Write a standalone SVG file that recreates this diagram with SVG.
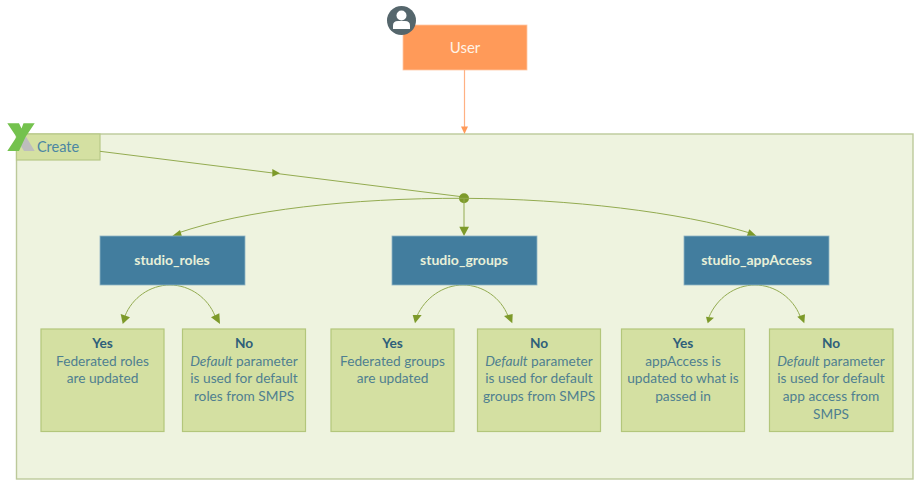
<svg xmlns="http://www.w3.org/2000/svg" width="920" height="487" viewBox="0 0 920 487">
<style>
text{font-family:Lato,"Noto Sans",sans-serif;text-anchor:middle}
.leaf{fill:#d4e0a2;stroke:#b3c67b;stroke-width:1.200}
.head{fill:#427d9e;stroke:#8fb3c4;stroke-width:.8}
.ht{font-size:14px;font-weight:700;fill:#e8f0d8}
.lt{font-size:13.700px;fill:#4f7f90}
.lb{font-size:13.700px;font-weight:700;fill:#2f5f7a}
.c{fill:none;stroke:#93ab50;stroke-width:1}
.a{fill:#7d9a2a}
</style>
<g id="create">
<rect x="16.500" y="134" width="896.500" height="345" fill="#eef3df" stroke="#bcc99a" stroke-width="1.400"/>
<rect x="16.500" y="134" width="83.500" height="26" fill="#d4e0a2" stroke="#b8c987" stroke-width="1.200"/>
<text x="58" y="151.500" style="font-size:14.500px;fill:#4b86a3">Create</text>
<polygon points="25,135 34.700,151 24,151 19,143" fill="#bdbdbd"/>
<polygon points="7.300,123.300 19,123.300 21.500,128.500 23.500,123.300 34.700,123.300 25.500,137 19,151 7.300,151 16.500,137" fill="#74c24e"/>
</g>
<g id="user">
<rect x="403" y="25" width="124" height="45" fill="#ff9a59" stroke="#ffc9a5" stroke-width=".8"/>
<text x="465" y="52.500" style="font-size:15px;fill:#fff3e6">User</text>
<circle cx="401.500" cy="20.500" r="14.500" fill="#55666c"/>
<circle cx="401.500" cy="15.500" r="5" fill="#fff"/>
<path d="M393 29v-3.500q0-4.500 5-4.500h7q5 0 5 4.500v3.500z" fill="#fff"/>
</g>
<g id="connectors">
<path d="M464.500 70V127" fill="none" stroke="#ffb183" stroke-width="1.200"/>
<polygon points="461,126.500 468,126.500 464.500,134" fill="#ff9a59"/>
<path class="c" d="M100 151.300L464 197"/>
<polygon class="a" points="272.300,169 280,173.300 272.300,176.700"/>
<circle class="a" cx="464" cy="198.300" r="5"/>
<path class="c" d="M464 198.300C350 198 245 210 178 233"/>
<polygon class="a" points="172.300,236 180,230 182.700,238.700"/>
<path class="c" d="M464 198.300V228"/>
<polygon class="a" points="459.300,226.700 469,226.700 464,236"/>
<path class="c" d="M464 198.300C570 199 680 212 750 233"/>
<polygon class="a" points="746,238.300 749.300,229.300 757.300,236.700"/>
<path class="c" d="M170 285C150 285 132 298 125 316"/>
<path class="c" d="M170 285C190 285 208 298 215 316"/>
<polygon class="a" points="120.700,314 130,317.300 122.700,324"/>
<polygon class="a" points="211,317.300 219.300,313.300 220,324"/>
<path class="c" d="M463 285C443 285 425 298 417 316"/>
<path class="c" d="M463 285C483 285 501 298 508 316"/>
<polygon class="a" points="412.700,315 421.700,315 415,323.300"/>
<polygon class="a" points="504,316 512.700,314 512.300,323.300"/>
<path class="c" d="M755 285C735 285 717 298 709 317"/>
<path class="c" d="M755 285C775 285 793 298 800 316"/>
<polygon class="a" points="706,316.700 714,317.700 707.700,323.300"/>
<polygon class="a" points="797.300,316.700 805,314.300 804.300,323.300"/>
</g>
<g id="studio_roles"><rect class="head" x="100" y="236" width="145" height="49"/><text class="ht" x="172" y="265">studio_roles</text></g>
<g id="studio_groups"><rect class="head" x="392" y="236" width="145" height="49"/><text class="ht" x="464" y="265">studio_groups</text></g>
<g id="studio_appAccess"><rect class="head" x="684" y="236" width="145" height="49"/><text class="ht" x="756.500" y="265">studio_appAccess</text></g>
<g id="roles_yes"><rect class="leaf" x="41" y="329" width="123" height="102.500"/><text class="lb" x="102.500" y="347.500">Yes</text><text class="lt" x="102.500" y="365.500">Federated roles</text><text class="lt" x="102.500" y="383">are updated</text></g>
<g id="roles_no"><rect class="leaf" x="182.500" y="329" width="123" height="102.500"/><text class="lb" x="244" y="347.500">No</text><text class="lt" x="244" y="365.500"><tspan font-style="italic">Default</tspan> parameter</text><text class="lt" x="244" y="383">is used for default</text><text class="lt" x="244" y="401">roles from SMPS</text></g>
<g id="groups_yes"><rect class="leaf" x="331" y="329" width="123" height="102.500"/><text class="lb" x="392.500" y="347.500">Yes</text><text class="lt" x="392.500" y="365.500">Federated groups</text><text class="lt" x="392.500" y="383">are updated</text></g>
<g id="groups_no"><rect class="leaf" x="477.500" y="329" width="123" height="102.500"/><text class="lb" x="539" y="347.500">No</text><text class="lt" x="539" y="365.500"><tspan font-style="italic">Default</tspan> parameter</text><text class="lt" x="539" y="383">is used for default</text><text class="lt" x="539" y="401">groups from SMPS</text></g>
<g id="app_yes"><rect class="leaf" x="621.500" y="329" width="123" height="102.500"/><text class="lb" x="683" y="347.500">Yes</text><text class="lt" x="683" y="365.500">appAccess is</text><text class="lt" x="683" y="383">updated to what is</text><text class="lt" x="683" y="401">passed in</text></g>
<g id="app_no"><rect class="leaf" x="769.500" y="329" width="123.500" height="102.500"/><text class="lb" x="831" y="347.500">No</text><text class="lt" x="831" y="365.500"><tspan font-style="italic">Default</tspan> parameter</text><text class="lt" x="831" y="383">is used for default</text><text class="lt" x="831" y="401">app access from</text><text class="lt" x="831" y="418.500">SMPS</text></g>
</svg>
